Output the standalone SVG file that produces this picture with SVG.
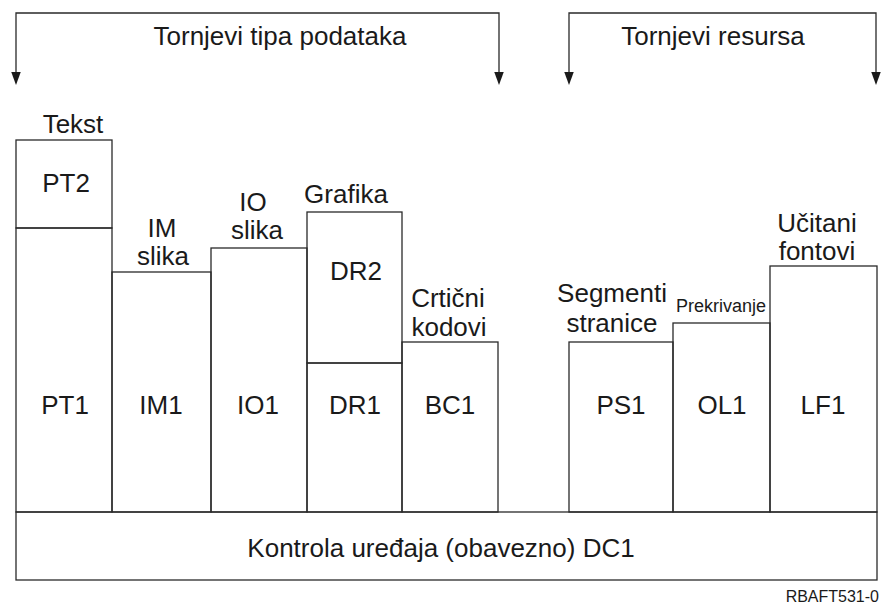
<svg xmlns="http://www.w3.org/2000/svg" width="881" height="605" viewBox="0 0 881 605">
  <defs>
    <style>
      .box { fill: none; stroke: #2a2a2a; stroke-width: 1.3; }
      .lbl { font-family: "Liberation Sans", Arial, sans-serif; font-size: 26px; fill: #1a1a1a; text-anchor: middle; }
      .sm { font-size: 18px; }
      .tag { font-family: "Liberation Sans", Arial, sans-serif; font-size: 16px; fill: #1a1a1a; text-anchor: end; }
      .brk { fill: none; stroke: #2a2a2a; stroke-width: 1.3; marker-start: url(#tip); marker-end: url(#tip); }
    </style>
    <marker id="tip" markerUnits="userSpaceOnUse" markerWidth="13" markerHeight="10" refX="0" refY="4.75" orient="auto-start-reverse">
      <path d="M0,0 L13,4.75 L0,9.5 Z" fill="#1a1a1a"/>
    </marker>
  </defs>

  <!-- Brackets over the two groups of towers -->
  <g id="connectors">
    <path class="brk" d="M16,72 V13 H499 V72"/>
    <path class="brk" d="M569,72 V13 H876 V72"/>
  </g>
  <g id="group-labels">
    <text class="lbl" x="280" y="45">Tornjevi tipa podataka</text>
    <text class="lbl" x="713" y="45">Tornjevi resursa</text>
  </g>

  <!-- Data-type towers -->
  <g id="PT2">
    <rect class="box" x="16" y="140" width="96" height="88"/>
    <text class="lbl" x="73" y="133">Tekst</text>
    <text class="lbl" x="66" y="192">PT2</text>
  </g>
  <g id="PT1">
    <rect class="box" x="16" y="228" width="96" height="284"/>
    <text class="lbl" x="65" y="414">PT1</text>
  </g>
  <g id="IM1">
    <rect class="box" x="112" y="272" width="99" height="240"/>
    <text class="lbl" x="162" y="237">IM</text>
    <text class="lbl" x="163" y="265">slika</text>
    <text class="lbl" x="161" y="414">IM1</text>
  </g>
  <g id="IO1">
    <rect class="box" x="211" y="248" width="96" height="264"/>
    <text class="lbl" x="253" y="211">IO</text>
    <text class="lbl" x="257" y="239">slika</text>
    <text class="lbl" x="258" y="414">IO1</text>
  </g>
  <g id="DR2">
    <rect class="box" x="307" y="212" width="95" height="151"/>
    <text class="lbl" x="346" y="203">Grafika</text>
    <text class="lbl" x="356" y="280">DR2</text>
  </g>
  <g id="DR1">
    <rect class="box" x="307" y="363" width="95" height="149"/>
    <text class="lbl" x="355" y="414">DR1</text>
  </g>
  <g id="BC1">
    <rect class="box" x="402" y="342" width="96" height="170"/>
    <text class="lbl" x="448" y="307">Crtični</text>
    <text class="lbl" x="449" y="336">kodovi</text>
    <text class="lbl" x="450" y="414">BC1</text>
  </g>

  <!-- Resource towers -->
  <g id="PS1">
    <rect class="box" x="569" y="342" width="104" height="170"/>
    <text class="lbl" x="612" y="302">Segmenti</text>
    <text class="lbl" x="612" y="332">stranice</text>
    <text class="lbl" x="621" y="414">PS1</text>
  </g>
  <g id="OL1">
    <rect class="box" x="673" y="323" width="97" height="189"/>
    <text class="lbl sm" x="721" y="312">Prekrivanje</text>
    <text class="lbl" x="722" y="414">OL1</text>
  </g>
  <g id="LF1">
    <rect class="box" x="770" y="266" width="107" height="246"/>
    <text class="lbl" x="817" y="232">Učitani</text>
    <text class="lbl" x="817" y="260">fontovi</text>
    <text class="lbl" x="823" y="414">LF1</text>
  </g>

  <!-- Device control base -->
  <g id="DC1">
    <rect class="box" x="16" y="512" width="861" height="68"/>
    <text class="lbl" x="441" y="557">Kontrola uređaja (obavezno) DC1</text>
  </g>

  <text class="tag" x="879" y="602">RBAFT531-0</text>
</svg>
